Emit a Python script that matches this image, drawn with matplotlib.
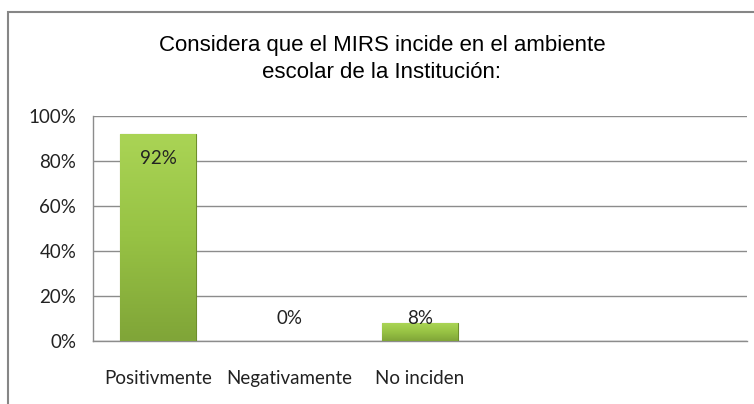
import numpy as np
import matplotlib
matplotlib.use('Agg')
import matplotlib.pyplot as plt
from matplotlib.patches import Rectangle
from matplotlib.ticker import PercentFormatter

# datos
categorias = ['Positivmente', 'Negativamente', 'No inciden', '', '']
valores = [92, 0, 8, None, None]
titulo = 'Considera que el MIRS incide en el ambiente\nescolar de la Institución:'

W, H = 754, 404
fig = plt.figure(figsize=(W / 100, H / 100), dpi=100)
ax = fig.add_axes([93 / W, 1 - 341 / H, (747 - 93) / W, (341 - 116) / H])

x = np.arange(len(categorias))
alturas = [v if v is not None else np.nan for v in valores]
barras = ax.bar(x, alturas, width=0.58, color='#95BC45', edgecolor='#6E8E2C',
                linewidth=0.8, zorder=3)

# degradado vertical dentro de cada barra
grad = np.linspace(1, 0, 100).reshape(-1, 1)
cmap = matplotlib.colors.LinearSegmentedColormap.from_list('verde', ['#80A538', '#97C244', '#AAD455'])
for b, v in zip(barras, valores):
    if not v:
        b.set_linewidth(0)
        continue
    x0, w, h = b.get_x(), b.get_width(), b.get_height()
    im = ax.imshow(grad, cmap=cmap, aspect='auto', extent=[x0, x0 + w, 0, h],
                   zorder=3.5, origin='upper')
    im.set_clip_path(b)

# etiquetas de datos
for xi, v in zip(x, valores):
    if v is None:
        continue
    ax.text(xi, max(v - 11.1, 9.8), f'{v}%', ha='center', va='center',
            fontsize=13.5, family='Lato', color='#222222', zorder=5)

ax.set_xlim(-0.5, len(categorias) - 0.5)
ax.set_ylim(0, 100)
ax.set_yticks(range(0, 101, 20))
ax.yaxis.set_major_formatter(PercentFormatter(decimals=0))
ax.set_xticks(x)
ax.set_xticklabels(categorias)
ax.tick_params(length=0, labelsize=13.5, colors='#222222')
ax.tick_params(axis='y', pad=12)
ax.tick_params(axis='x', pad=21)
for lab in ax.get_xticklabels() + ax.get_yticklabels():
    lab.set_family('Lato')
ax.grid(axis='y', color='#8C8C8C', linewidth=1, zorder=0)
for s in ['top', 'right']:
    ax.spines[s].set_visible(False)
for s in ['left', 'bottom']:
    ax.spines[s].set_color('#8C8C8C')
    ax.spines[s].set_linewidth(1)

fig.text(382 / W, 1 - 59 / H, titulo, ha='center', va='center', fontsize=16,
         family='Liberation Sans', linespacing=1.4, color='black')

# marco exterior del grafico
fig.patches.append(Rectangle((8 / W, -0.1), 1.1, 1 - 12 / H + 0.1, transform=fig.transFigure,
                             fill=False, edgecolor='#868686', linewidth=1.5))

fig.savefig('out.png', dpi=100)
